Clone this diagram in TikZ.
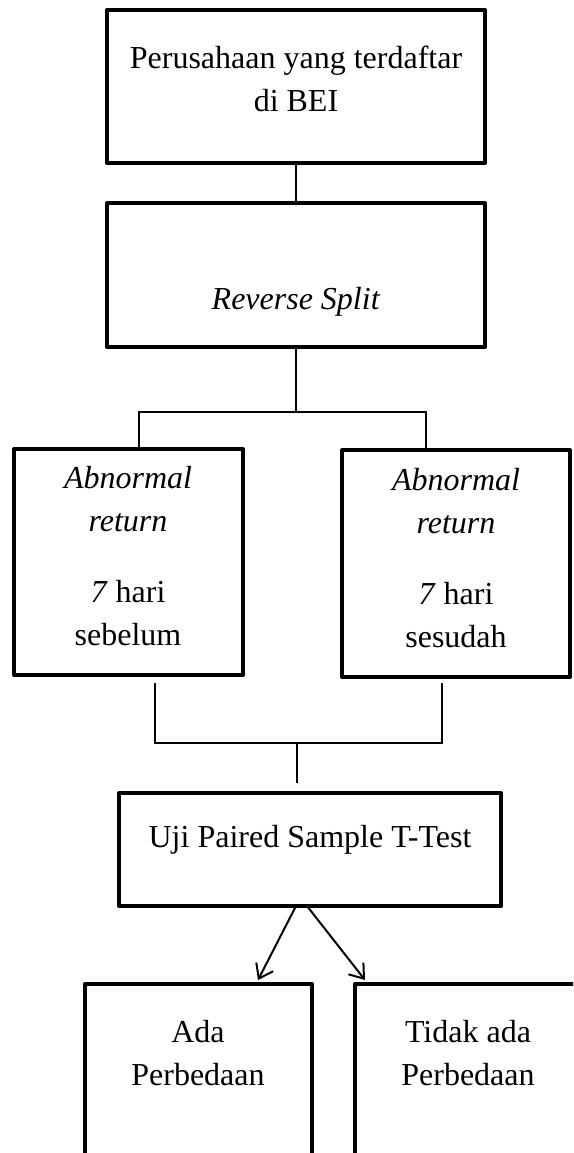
\documentclass[tikz,border=0pt]{standalone}
\usepackage{fontspec}
\setmainfont{Liberation Serif}
\usepackage{tikz}
\usetikzlibrary{arrows.meta,calc}
\tikzset{
  kotak/.style={rectangle,draw=black,line width=4pt,line join=round,outer sep=0pt,inner sep=0pt},
  teks/.style={align=center,inner sep=0pt,font=\fontsize{32}{43}\selectfont},
  garis/.style={draw=black,line width=1.6pt},
  panah/.style={draw=black,line width=2pt,-{Straight Barb[length=13pt,width=19pt]}},
}
\begin{document}
\begin{tikzpicture}[x=1pt,y=-1pt]
\fill[white] (0,0) rectangle (573,1153);
\clip (0,0) rectangle (573,1153);
\node[kotak,minimum width=378pt,minimum height=153pt] (b1) at (296,86.5) {};
\node[kotak,minimum width=378pt,minimum height=144pt] (b2) at (296,275) {};
\node[kotak,minimum width=229pt,minimum height=226pt] (b3) at (128.5,562) {};
\node[kotak,minimum width=228pt,minimum height=227pt] (b4) at (456,563.5) {};
\node[kotak,minimum width=382pt,minimum height=113pt] (b5) at (310,849.5) {};
\node[kotak,minimum width=227pt,minimum height=192pt] (b6) at (198.5,1080) {};
\node[kotak,minimum width=226pt,minimum height=192pt] (b7) at (468,1080) {};
\node[teks] (t1) at (296,79) {Perusahaan yang terdaftar\\di BEI};
\node[teks,anchor=base] (t2) at (296,309) {\textit{Reverse Split}};
\node[teks] (t3) at (128,556.5) {\textit{Abnormal}\\\textit{return}\\[28pt]\textit{7} hari\\sebelum};
\node[teks] (t4) at (456,558.5) {\textit{Abnormal}\\\textit{return}\\[28pt]\textit{7} hari\\sesudah};
\node[teks,anchor=base] (t5) at (310,847) {Uji Paired Sample T-Test};
\node[teks] (t6) at (198,1053.5) {Ada\\Perbedaan};
\node[teks] (t7) at (468,1053.5) {Tidak ada\\Perbedaan};
\coordinate (ka) at (139,412);
\coordinate (kb) at (426,412);
\coordinate (ga) at (155,743);
\coordinate (gb) at (442,743);
\coordinate (gt) at (297,783);
\coordinate (u1) at (258,980);
\coordinate (u2) at (365,980);
\draw[garis] (b1.south) -- (b2.north);
\draw[garis] (b2.south) -- (b2.south |- ka);
\draw[garis] (ka |- b3.north) -- (ka) -- (kb) -- (kb |- b4.north);
\draw[garis] ($(ga |- b3.south)+(0,8)$) -- (ga) -- (gb) -- ($(gb |- b4.south)+(0,6)$);
\draw[garis] (gt |- ga) -- (gt);
\draw[panah] ($(b5.south)+(-14,0)$) -- (u1);
\draw[panah] ($(b5.south)+(-3,0)$) -- (u2);
\end{tikzpicture}
\end{document}
